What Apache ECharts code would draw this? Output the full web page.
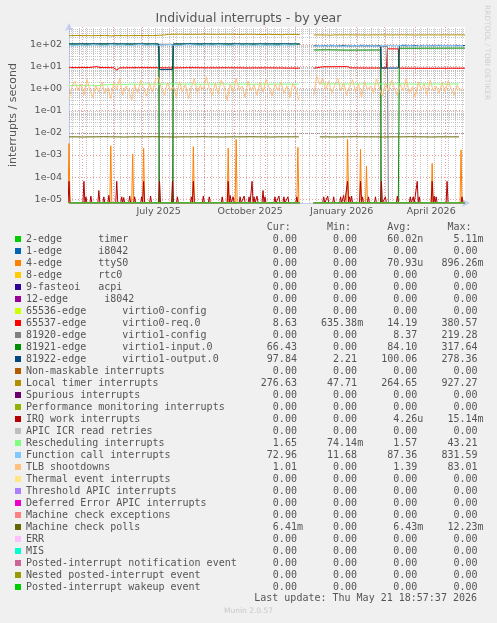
<!DOCTYPE html>
<html>
<head>
<meta charset="utf-8">
<title>Individual interrupts - by year</title>
<script src="https://cdn.jsdelivr.net/npm/echarts@6/dist/echarts.min.js"></script>
<style>
  html, body { margin: 0; padding: 0; background: #f0f0f0; }
  #chart { width: 497px; height: 623px; }
</style>
</head>
<body>
<div id="chart"></div>
<script>
// time axis: day 0 = Apr 18 2025, last sample = May 21 2026
const DAY = 86400000;
const START = Date.UTC(2025, 3, 18);
const LAST_DAY = 398;
// log axis range (0 values sit on the bottom edge, like rrdtool does)
const Y_MIN = 6.84e-6;
const Y_MAX = 600;

const names = [
  '2-edge      timer', '1-edge      i8042', '4-edge      ttyS0', '8-edge      rtc0',
  '9-fasteoi   acpi', '12-edge      i8042', '65536-edge      virtio0-config',
  '65537-edge      virtio0-req.0', '81920-edge      virtio1-config',
  '81921-edge      virtio1-input.0', '81922-edge      virtio1-output.0',
  'Non-maskable interrupts', 'Local timer interrupts', 'Spurious interrupts',
  'Performance monitoring interrupts', 'IRQ work interrupts', 'APIC ICR read retries',
  'Rescheduling interrupts', 'Function call interrupts', 'TLB shootdowns',
  'Thermal event interrupts', 'Threshold APIC interrupts', 'Deferred Error APIC interrupts',
  'Machine check exceptions', 'Machine check polls', 'ERR', 'MIS',
  'Posted-interrupt notification event', 'Nested posted-interrupt event',
  'Posted-interrupt wakeup event'
];
const colors = [
  '#00CC00', '#0066B3', '#FF8000', '#FFCC00', '#330099', '#990099', '#CCFF00', '#FF0000',
  '#808080', '#008F00', '#00487D', '#B35A00', '#B38F00', '#6B006B', '#8FB300', '#B30000',
  '#BEBEBE', '#80FF80', '#80C9FF', '#FFC080', '#FFE680', '#AA80FF', '#EE00CC', '#FF8080',
  '#666600', '#FFBFFF', '#00FFCC', '#CC6699', '#999900', '#00CC00'
];
const curText = ['0.00', '0.00', '0.00', '0.00', '0.00', '0.00', '0.00', '8.63', '0.00', '66.43',
  '97.84', '0.00', '276.63', '0.00', '0.00', '0.00', '0.00', '1.65', '72.96', '1.01',
  '0.00', '0.00', '0.00', '0.00', '6.41m', '0.00', '0.00', '0.00', '0.00', '0.00'];
const minText = ['0.00', '0.00', '0.00', '0.00', '0.00', '0.00', '0.00', '635.38m', '0.00', '0.00',
  '2.21', '0.00', '47.71', '0.00', '0.00', '0.00', '0.00', '74.14m', '11.68', '0.00',
  '0.00', '0.00', '0.00', '0.00', '0.00', '0.00', '0.00', '0.00', '0.00', '0.00'];
const avgText = ['60.02n', '0.00', '70.93u', '0.00', '0.00', '0.00', '0.00', '14.19', '8.37', '84.10',
  '100.06', '0.00', '264.65', '0.00', '0.00', '4.26u', '0.00', '1.57', '87.36', '1.39',
  '0.00', '0.00', '0.00', '0.00', '6.43m', '0.00', '0.00', '0.00', '0.00', '0.00'];
const maxText = ['5.11m', '0.00', '896.26m', '0.00', '0.00', '0.00', '0.00', '380.57', '219.28', '317.64',
  '278.36', '0.00', '927.27', '0.00', '0.00', '15.14m', '0.00', '43.21', '831.59', '83.01',
  '0.00', '0.00', '0.00', '0.00', '12.23m', '0.00', '0.00', '0.00', '0.00', '0.00'];

// [day, value] ; null = no data (outage in December)
const zeroLine = [[0, 0], [232, 0], [239, null], [246, 0], [LAST_DAY, 0]];
const localTimer = [[0, 245], [12, 248], [24, 243], [36, 250], [43, 238], [46, 247], [60, 244],
  [72, 249], [84, 246], [96, 262], [100, 280], [112, 284], [124, 279], [136, 285], [148, 281],
  [160, 283], [172, 278], [184, 284], [196, 270], [200, 282], [215, 268], [218, 280], [232, 275],
  [239, null], [246, 264], [258, 262], [263, 255], [266, 263], [280, 266], [282, 256], [285, 264],
  [300, 262], [312, 265], [324, 263], [336, 266], [348, 262], [360, 264], [372, 263], [384, 265],
  [398, 264]];
const virtio0Req = [[0, 9.2], [5, 8.8], [20, 8.9], [28, 9.8], [31, 8.9], [45, 8.7], [48, 6.8],
  [51, 8.6], [70, 8.8], [90, 8.7], [104, 8.5], [120, 8.8], [140, 8.6], [160, 8.7], [180, 8.5],
  [200, 8.6], [220, 8.4], [232, 8.3], [239, null], [246, 8.3], [255, 9.6], [280, 9.8], [283, 8.6],
  [300, 8.4], [319, 8.5], [320, 62], [331, 62], [332, 8.3], [360, 8.2], [398, 8.3]];
const virtio1Config = [[0, 0], [90, 0], [91, 100], [104, 100], [105, 0], [232, 0], [239, null],
  [246, 0], [313, 0], [314, 78], [320, 78], [321, 0], [398, 0]];
const virtio1Input = [[0, 102], [90, 102], [91, 0], [104, 0], [105, 102], [232, 101], [239, null],
  [246, 55], [260, 56], [280, 54], [313, 55], [314, 0], [331, 0], [332, 66], [398, 67]];
const virtio1Output = [[0, 104], [30, 105], [60, 104], [90, 104], [91, 7.2], [104, 7.2], [105, 104],
  [140, 105], [180, 104], [220, 105], [232, 104], [239, null], [246, 86], [280, 85], [313, 85],
  [314, 8.4], [331, 8.4], [332, 86], [398, 87]];

// spikes: day and peak
const ttyDays = [0, 42, 64, 75, 125, 160, 168, 230, 280, 293, 299, 365, 394];
const ttyPeaks = [3.3e-3, 2.6e-3, 1.1e-3, 2.0e-3, 2.4e-3, 2.0e-3, 5e-3, 2.2e-3, 5e-3, 1.8e-3,
  3.2e-4, 4.2e-4, 1.7e-3];
const irqDays = [0, 15, 17, 22, 30, 35, 40, 48, 53, 55, 61, 66, 73, 75, 82, 91, 104, 109, 123, 125,
  135, 141, 154, 160, 162, 165, 172, 176, 181, 184, 186, 189, 195, 197, 207, 211, 216, 220, 229,
  256, 260, 266, 273, 276, 280, 282, 284, 293, 295, 301, 308, 314, 318, 330, 343, 346, 350, 352,
  365, 367, 369, 380, 395];
const irqPeaks = [6.5e-5, 6.5e-5, 1.3e-5, 1.4e-5, 2.5e-5, 1.3e-5, 1.5e-5, 6.5e-5, 1.3e-5, 1.2e-5,
  1.4e-5, 1.3e-5, 1.3e-5, 6.5e-5, 1.4e-5, 6.5e-5, 6.5e-5, 1.3e-5, 1.3e-5, 6.5e-5,
  1.4e-5, 1.3e-5, 1.3e-5, 6.5e-5, 1.5e-5, 1.3e-5, 1.3e-5, 1.4e-5, 1.3e-5, 6.5e-5,
  1.3e-5, 1.4e-5, 2.5e-5, 1.3e-5, 1.3e-5, 1.4e-5, 1.3e-5, 1.3e-5, 1.3e-5,
  1.3e-5, 1.4e-5, 1.3e-5, 1.3e-5, 1.5e-5, 6.5e-5, 1.3e-5, 1.4e-5, 6.5e-5, 1.3e-5, 1.3e-5, 1.3e-5,
  6.5e-5, 1.3e-5, 1.4e-5, 1.3e-5, 1.3e-5, 6.5e-5, 1.3e-5, 6.5e-5, 1.4e-5, 1.3e-5, 6.5e-5, 1.3e-5];

// regularly sampled series (null = outage)
const functionCall = [84, 88, 92, 86, 95, 90, 83, 97, 89, 93,
  86, 91, 99, 88, 94, 87, 92, 96, 85, 90,
  98, 92, 87, 94, 89, 95, 91, 86, 97, 90,
  93, 88, 95, 89, 92, 87, 96, 90, 93, null, null,
  82, 88, 84, 91, 86, 80, 89, 85, 92, 83,
  87, 81, 90, 86, 84, 93, 88, 82, 90, 87,
  85, 91, 86, 89, 84, 88]; // every 6 days
const rescheduling = [1.35, 1.4, 1.38, 1.42, 1.36, 1.45, 1.5, 1.55, 1.52, 1.58,
  1.55, 1.6, 1.57, 1.54, 1.6, 1.62, 1.56, 1.58, 1.6, 1.55,
  1.59, 1.57, 1.61, 1.56, 1.58, 1.6, 1.54, 1.57, 1.59, 1.55,
  1.6, 1.58, 1.56, 1.57, null, null, 1.62, 1.6, 1.63, 1.58, 1.61, 1.6, 1.64, 1.59, 1.62, 1.6,
  1.57, 1.61, 1.63, 1.6, 1.58, 1.62, 1.6, 1.59, 1.61, 1.6, 1.62]; // weekly
const tlb = [0.35, 1.2, 2.2, 0.8, 1.6, 0.5, 2.6, 0.9, 0.4, 1.4,
  0.7, 2.0, 0.6, 1.1, 0.35, 1.8, 0.9, 2.9, 0.5, 1.3,
  0.8, 0.3, 1.5, 0.6, 2.3, 1.0, 0.45, 1.7, 0.7, 2.6,
  3.2, 0.9, 0.5, 1.9, 0.8, 1.2, 0.4, 2.1, 0.7, 1.5,
  0.35, 1.1, 2.8, 0.6, 1.4, 0.9, 3.4, 1.0, 0.5, 1.8,
  0.6, 2.4, 1.2, 0.3, 1.6, 0.7, 2.9, 0.9, 1.3, 0.4,
  2.2, 0.8, 1.5, 0.5, 1.9, 0.7, 2.6, 1.1, 0.45, 1.6,
  0.8, 2.0, 0.6, 1.3, 0.4, 1.7, 0.9, 0.3, null, null, null, null,
  0.5, 3.8, 1.5, 2.8, 0.9, 2.2, 0.6, 1.4, 3.0, 0.8,
  1.9, 0.5, 1.2, 2.5, 0.7, 1.6, 0.4, 2.1, 0.9, 1.3,
  0.6, 2.7, 1.0, 0.45, 1.8, 0.7, 2.3, 1.1, 0.5, 1.5,
  0.8, 2.9, 0.6, 1.2, 0.4, 2.0, 0.9, 1.6, 0.5, 2.4,
  0.8, 1.3, 0.6, 1.9, 0.7, 2.2, 1.0, 0.5, 1.4, 0.8, 1.1]; // every 3 days
const checkPolls = [0.0066, 0.0066, 0.0065, 0.0066, 0.0066, 0.0067, 0.0066, 0.0066, 0.0065, 0.0066,
  0.0066, 0.0066, 0.0067, 0.0066, 0.0066, 0.0065, 0.0066, 0.0066, 0.0066, 0.0067,
  0.0066, 0.0066, 0.0065, 0.0066, 0.0066, 0.0066, 0.0067, 0.0066, 0.0066, 0.0065,
  0.0066, 0.0066, 0.0066, 0.0066, null, null, 0.0066, 0.0066, 0.0065, 0.0066,
  0.0066, 0.0067, 0.0066, 0.0066, 0.0066, 0.0065, 0.0066, 0.0066, 0.0066, 0.0067,
  0.0066, 0.0066, 0.0065, 0.0066, 0.0066, 0.0066, 0.0066]; // weekly

function stepPairs(values, step) {
  return values.map((v, i) => [i * step, v]);
}
function spikePairs(days, peaks) {
  const pts = zeroLine.slice();
  days.forEach((d, i) => { pts.push([d - 1, 0], [d, peaks[i]], [d + 1, 0]); });
  return pts.sort((a, b) => a[0] - b[0]);
}
function toChart(pairs) {
  return pairs.map(([d, v]) => [START + d * DAY, v === null ? '-' : (v === 0 ? Y_MIN : v)]);
}

const dataByIndex = {
  2: spikePairs(ttyDays, ttyPeaks),
  7: virtio0Req,
  8: virtio1Config,
  9: virtio1Input,
  10: virtio1Output,
  12: localTimer,
  15: spikePairs(irqDays, irqPeaks),
  17: stepPairs(rescheduling, 7),
  18: stepPairs(functionCall, 6),
  19: stepPairs(tlb, 3),
  24: stepPairs(checkPolls, 7)
};

function field(text, width) {
  const m = text.match(/^([\d.]+)([a-zA-Z]?)$/);
  return m[1].padStart(width) + (m[2] || ' ');
}
function legendRow(name) {
  const i = names.indexOf(name);
  return name.padEnd(35) + field(curText[i], 10) + field(minText[i], 9) +
    field(avgText[i], 9) + field(maxText[i], 9);
}

// rrdtool style minor grid: 2..9 per decade, weekly verticals
const minorGrid = [];
for (let e = -6; e <= 2; e++) {
  for (let k = 2; k <= 9; k++) {
    const v = k * Math.pow(10, e);
    if (v > Y_MIN && v < Y_MAX) minorGrid.push({ yAxis: v });
  }
}
for (let d = 3; d < LAST_DAY; d += 7) minorGrid.push({ xAxis: START + d * DAY });

const monthNames = ['January', 'February', 'March', 'April', 'May', 'June', 'July',
  'August', 'September', 'October', 'November', 'December'];

const series = names.map((name, i) => ({
  name: name,
  type: 'line',
  color: colors[i],
  showSymbol: false,
  symbol: 'none',
  lineStyle: { width: 1, color: colors[i] },
  data: toChart(dataByIndex[i] || zeroLine)
}));
series.unshift({
  name: 'grid',
  type: 'line',
  data: [],
  silent: true,
  z: 1,
  markLine: {
    silent: true,
    symbol: 'none',
    z: 1,
    animation: false,
    label: { show: false },
    lineStyle: { color: 'rgba(150,150,150,0.55)', type: [1, 1], width: 1 },
    data: minorGrid
  }
});

const chart = echarts.init(document.getElementById('chart'));
chart.setOption({
  backgroundColor: '#f0f0f0',
  animation: false,
  useUTC: true,
  textStyle: { fontFamily: 'DejaVu Sans' },
  title: [
    { text: 'Individual interrupts - by year', left: 'center', top: 12, padding: 0,
      textStyle: { fontSize: 12.5, fontWeight: 'normal', color: '#555' } },
    { text: 'Cur:      Min:      Avg:      Max:', left: 266.8, top: 222, padding: 0,
      textStyle: { fontFamily: 'DejaVu Sans Mono', fontSize: 10, fontWeight: 'normal', color: '#555' } },
    { text: 'Last update: Thu May 21 18:57:37 2026', right: 20, top: 593, padding: 0,
      textStyle: { fontFamily: 'DejaVu Sans Mono', fontSize: 10, fontWeight: 'normal', color: '#555' } },
    { text: 'Munin 2.0.57', left: 'center', top: 607, padding: 0,
      textStyle: { fontSize: 7.5, fontWeight: 'normal', color: '#c8c8c8' } }
  ],
  graphic: [{
    type: 'text', x: 487, y: 5, rotation: -Math.PI / 2,
    style: { text: 'RRDTOOL / TOBI OETIKER', fill: '#cfcfcf', font: '7.4px "DejaVu Sans"',
      verticalAlign: 'middle' }
  }],
  legend: {
    orient: 'vertical', left: 15, top: 233, padding: 0,
    itemWidth: 6, itemHeight: 6, itemGap: 0, icon: 'rect',
    selectedMode: false,
    data: names,
    formatter: legendRow,
    textStyle: { fontFamily: 'DejaVu Sans Mono', fontSize: 10, color: '#555', lineHeight: 12 }
  },
  grid: { left: 67, right: 32, top: 27, bottom: 420, show: true, backgroundColor: '#fff', borderWidth: 0 },
  xAxis: {
    type: 'time',
    min: START,
    max: START + LAST_DAY * DAY,
    splitNumber: 13,
    minInterval: 28 * DAY,
    maxInterval: 31 * DAY,
    axisLine: { lineStyle: { color: '#c4ccf4' }, symbol: ['none', 'arrow'], symbolSize: [6, 8], symbolOffset: [0, 5] },
    axisTick: { show: false },
    axisLabel: {
      color: '#555', fontSize: 9.5, margin: 4, padding: [0, 0, 0, 32],
      showMinLabel: false, showMaxLabel: false,
      formatter: function (value) {
        const d = new Date(value);
        const m = d.getUTCMonth();
        if (d.getUTCDate() !== 1 || d.getUTCHours() !== 0) return '';
        if (m % 3 !== 0) return '';
        return monthNames[m] + ' ' + d.getUTCFullYear();
      }
    },
    splitLine: { show: true, showMinLine: false, showMaxLine: false,
      lineStyle: { color: 'rgba(235,60,60,0.5)', type: [1, 2], width: 1 } }
  },
  yAxis: {
    type: 'log',
    logBase: 10,
    min: Y_MIN,
    max: Y_MAX,
    name: 'interrupts / second',
    nameLocation: 'middle',
    nameGap: 50,
    nameTextStyle: { color: '#555', fontSize: 11 },
    axisLine: { show: true, lineStyle: { color: '#c4ccf4' }, symbol: ['none', 'arrow'], symbolSize: [6, 8], symbolOffset: [0, 4] },
    axisTick: { show: false },
    axisLabel: {
      color: '#555', fontSize: 9.5, margin: 7,
      showMinLabel: false, showMaxLabel: false,
      formatter: function (v) {
        const l = Math.log10(v);
        const r = Math.round(l);
        if (Math.abs(l - r) > 1e-6) return '';
        return '1e' + (r < 0 ? '-' : '+') + String(Math.abs(r)).padStart(2, '0');
      }
    },
    splitLine: { show: true, showMinLine: false, showMaxLine: false,
      lineStyle: { color: 'rgba(235,60,60,0.5)', type: [1, 2], width: 1 } }
  },
  series: series
});
</script>
</body>
</html>
